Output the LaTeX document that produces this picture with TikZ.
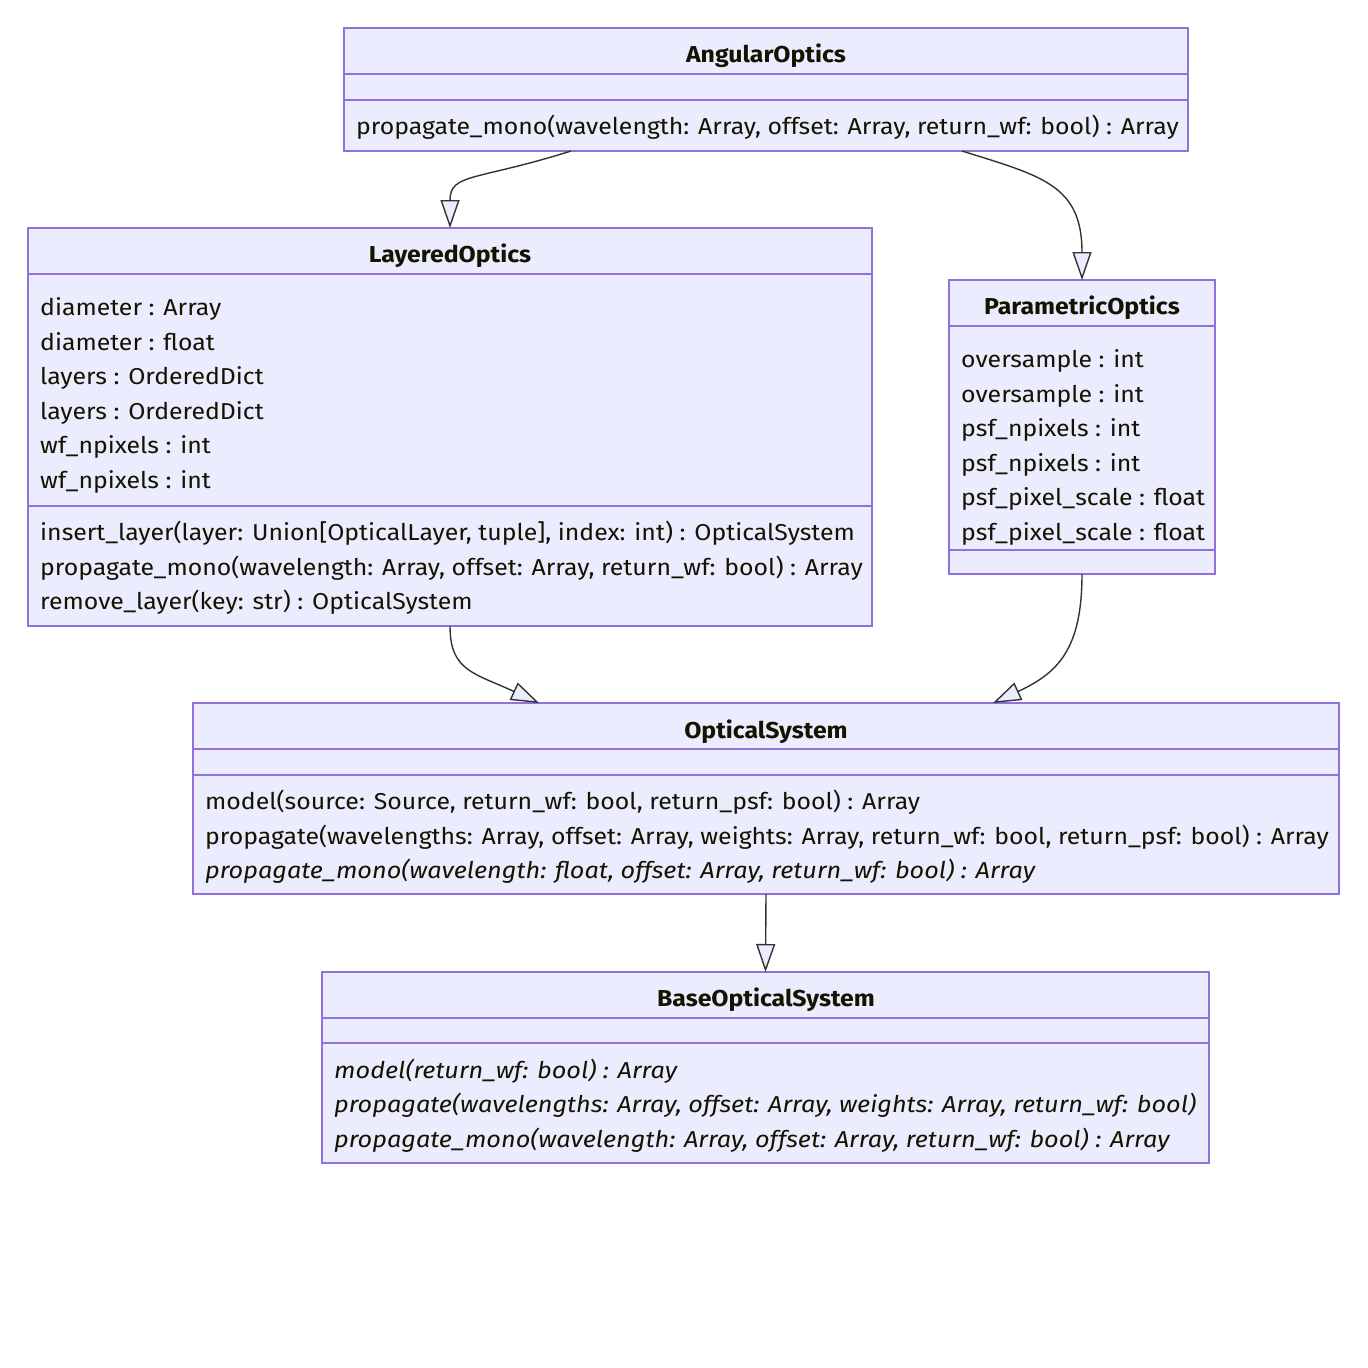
\documentclass[tikz,border=0pt]{standalone}
\usepackage{fontspec}
\setmainfont{Fira Sans}[
  UprightFeatures={FakeStretch=1.08},
  BoldFeatures={FakeStretch=1.08},
  ItalicFeatures={FakeStretch=1.10}]
\usetikzlibrary{arrows.meta,calc}
\definecolor{boxfill}{HTML}{ECECFF}
\definecolor{boxline}{HTML}{9370DB}
\definecolor{edgecol}{HTML}{333333}
\definecolor{ink}{HTML}{131300}
\tikzset{
  umlbox/.style={draw=boxline, fill=boxfill, line width=1.3pt, rectangle,
    anchor=north west, inner sep=0pt, outer sep=0pt},
  sepline/.style={draw=boxline, line width=1.3pt},
  classname/.style={font=\fontsize{23}{27}\selectfont\bfseries, text=ink,
    anchor=base, inner sep=0pt},
  member/.style={font=\fontsize{23}{27}\selectfont, text=ink,
    anchor=base west, inner sep=0pt},
  abstractmember/.style={member, font=\fontsize{23}{27}\selectfont\itshape},
  inherit/.style={draw=edgecol, line width=1.4pt,
    -{Triangle[length=28pt, width=19pt, fill=boxfill]}},
}
\begin{document}
\begin{tikzpicture}[x=1pt, y=-1pt]
\useasboundingbox (0,0) rectangle (1368,1368);

% AngularOptics
\node[umlbox, minimum width=844pt, minimum height=123pt] (ang) at (344,28) {};
\draw[sepline] (344,74) -- (1188,74);
\draw[sepline] (344,100) -- (1188,100);
\node[classname] (angT) at (766,62) {AngularOptics};
\node[member] (angM1) at (356,134) {propagate\_mono(wavelength: Array, offset: Array, return\_wf: bool) : Array};

% LayeredOptics
\node[umlbox, minimum width=844pt, minimum height=398pt] (lay) at (28,228) {};
\draw[sepline] (28,274) -- (872,274);
\draw[sepline] (28,506) -- (872,506);
\node[classname] (layT) at (450,262) {LayeredOptics};
\node[member] (layA1) at (40,315) {diameter : Array};
\node[member] (layA2) at (40,350) {diameter : float};
\node[member] (layA3) at (40,384) {layers : OrderedDict};
\node[member] (layA4) at (40,419) {layers : OrderedDict};
\node[member] (layA5) at (40,453) {wf\_npixels : int};
\node[member] (layA6) at (40,488) {wf\_npixels : int};
\node[member] (layM1) at (40,540) {insert\_layer(layer: Union[OpticalLayer, tuple], index: int) : OpticalSystem};
\node[member] (layM2) at (40,575) {propagate\_mono(wavelength: Array, offset: Array, return\_wf: bool) : Array};
\node[member] (layM3) at (40,609) {remove\_layer(key: str) : OpticalSystem};

% ParametricOptics
\node[umlbox, minimum width=266pt, minimum height=294pt] (par) at (949,280) {};
\draw[sepline] (949,326) -- (1215,326);
\draw[sepline] (949,550) -- (1215,550);
\node[classname] (parT) at (1082,314) {ParametricOptics};
\node[member] (parA1) at (961,367) {oversample : int};
\node[member] (parA2) at (961,402) {oversample : int};
\node[member] (parA3) at (961,436) {psf\_npixels : int};
\node[member] (parA4) at (961,471) {psf\_npixels : int};
\node[member] (parA5) at (961,505) {psf\_pixel\_scale : float};
\node[member] (parA6) at (961,540) {psf\_pixel\_scale : float};

% OpticalSystem
\node[umlbox, minimum width=1146pt, minimum height=191pt] (opt) at (193,703) {};
\draw[sepline] (193,749) -- (1339,749);
\draw[sepline] (193,775) -- (1339,775);
\node[classname] (optT) at (766,738) {OpticalSystem};
\node[member] (optM1) at (205,809) {model(source: Source, return\_wf: bool, return\_psf: bool) : Array};
\node[member] (optM2) at (205,844) {propagate(wavelengths: Array, offset: Array, weights: Array, return\_wf: bool, return\_psf: bool) : Array};
\node[abstractmember] (optM3) at (205,878) {propagate\_mono(wavelength: float, offset: Array, return\_wf: bool) : Array};

% BaseOpticalSystem
\node[umlbox, minimum width=887pt, minimum height=191pt] (base) at (322,972) {};
\draw[sepline] (322,1018) -- (1209,1018);
\draw[sepline] (322,1043) -- (1209,1043);
\node[classname] (baseT) at (766,1006) {BaseOpticalSystem};
\node[abstractmember] (baseM1) at (334,1078) {model(return\_wf: bool) : Array};
\node[abstractmember] (baseM2) at (334,1112) {propagate(wavelengths: Array, offset: Array, weights: Array, return\_wf: bool)};
\node[abstractmember] (baseM3) at (334,1147) {propagate\_mono(wavelength: Array, offset: Array, return\_wf: bool) : Array};

% inheritance connectors
\draw[inherit] ([xshift=-195pt]ang.south) .. controls +(-95,30) and +(0,-55) .. (lay.north);
\draw[inherit] ([xshift=196pt]ang.south) .. controls +(80,25) and +(0,-95) .. (par.north);
\draw[inherit] (lay.south) .. controls +(0,45) and +(-65,-30) .. ([xshift=-227pt]opt.north);
\draw[inherit] (par.south) .. controls +(0,75) and +(65,-30) .. ([xshift=227pt]opt.north);
\draw[inherit] (opt.south) -- (base.north);
\end{tikzpicture}
\end{document}
